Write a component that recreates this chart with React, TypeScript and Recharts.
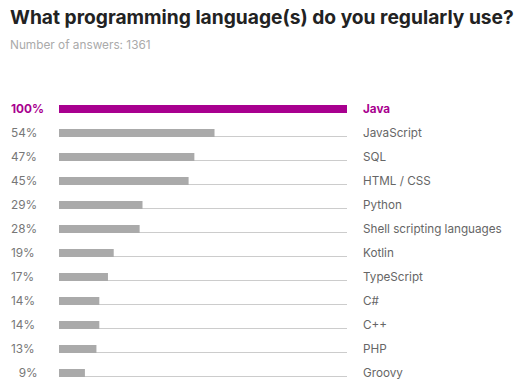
import { BarChart, Bar, XAxis, YAxis, Cell } from 'recharts'

const languages = [
  'Java',
  'JavaScript',
  'SQL',
  'HTML / CSS',
  'Python',
  'Shell scripting languages',
  'Kotlin',
  'TypeScript',
  'C#',
  'C++',
  'PHP',
  'Groovy',
]
const shares = [100, 54, 47, 45, 29, 28, 19, 17, 14, 14, 13, 9]

const title = 'What programming language(s) do you regularly use?'
const subtitle = 'Number of answers: 1361'

const HIGHLIGHT = '#a8008f'
const font = 'Inter, "Noto Sans", sans-serif'

const data = languages.map((name, i) => ({
  name,
  share: shares[i],
  pct: (shares[i] < 10 ? '\u2007' : '') + shares[i] + '%',
}))

const PctTick = (props: any) => {
  const { x, y, payload, index } = props
  const top = index === 0
  return (
    <text
      x={x - 42}
      y={y}
      dy={4}
      textAnchor="start"
      fontFamily={font}
      fontSize={11.8}
      fontWeight={top ? 700 : 400}
      fill={top ? HIGHLIGHT : '#777'}
    >
      {payload.value}
    </text>
  )
}

const NameTick = (props: any) => {
  const { x, y, payload, index } = props
  const top = index === 0
  return (
    <text
      x={x}
      y={y}
      dy={4}
      textAnchor="start"
      fontFamily={font}
      fontSize={11.7}
      fontWeight={top ? 700 : 400}
      fill={top ? HIGHLIGHT : '#666'}
    >
      {payload.value}
    </text>
  )
}

const Baseline = (props: any) => {
  const { x, y, width, height } = props
  return (
    <line x1={x} x2={x + width} y1={y + height - 0.5} y2={y + height - 0.5} stroke="#cccccc" strokeWidth={1} />
  )
}

export default function App() {
  return (
    <div style={{ position: 'absolute', left: 0, top: 0, width: 520, height: 387, background: '#fff' }}>
      <div
        style={{
          position: 'absolute',
          left: 10,
          top: 5,
          fontFamily: font,
          fontWeight: 700,
          fontSize: 19.2,
          color: '#222',
          whiteSpace: 'nowrap',
        }}
      >
        {title}
      </div>
      <div
        style={{
          position: 'absolute',
          left: 10,
          top: 38,
          fontFamily: font,
          fontSize: 11.8,
          color: '#aaa',
        }}
      >
        {subtitle}
      </div>
      <div style={{ position: 'absolute', left: 0, top: 0 }}>
        <BarChart
          width={520}
          height={387}
          data={data}
          layout="vertical"
          margin={{ top: 97, right: 10, bottom: 2, left: 10 }}
          barSize={8}
        >
          <XAxis type="number" domain={[0, 100]} hide />
          <YAxis
            yAxisId="pct"
            type="category"
            dataKey="pct"
            orientation="left"
            width={49}
            axisLine={false}
            tickLine={false}
            tickMargin={0}
            tick={<PctTick />}
            interval={0}
          />
          <YAxis
            yAxisId="name"
            type="category"
            dataKey="name"
            orientation="right"
            width={163}
            axisLine={false}
            tickLine={false}
            tickMargin={10}
            tick={<NameTick />}
            interval={0}
          />
          <Bar
            yAxisId="pct"
            dataKey="share"
            fill="#aaaaaa"
            background={<Baseline />}
            isAnimationActive={false}
          >
            {data.map((d, i) => (
              <Cell key={d.name} fill={i === 0 ? HIGHLIGHT : '#aaaaaa'} />
            ))}
          </Bar>
        </BarChart>
      </div>
    </div>
  )
}
